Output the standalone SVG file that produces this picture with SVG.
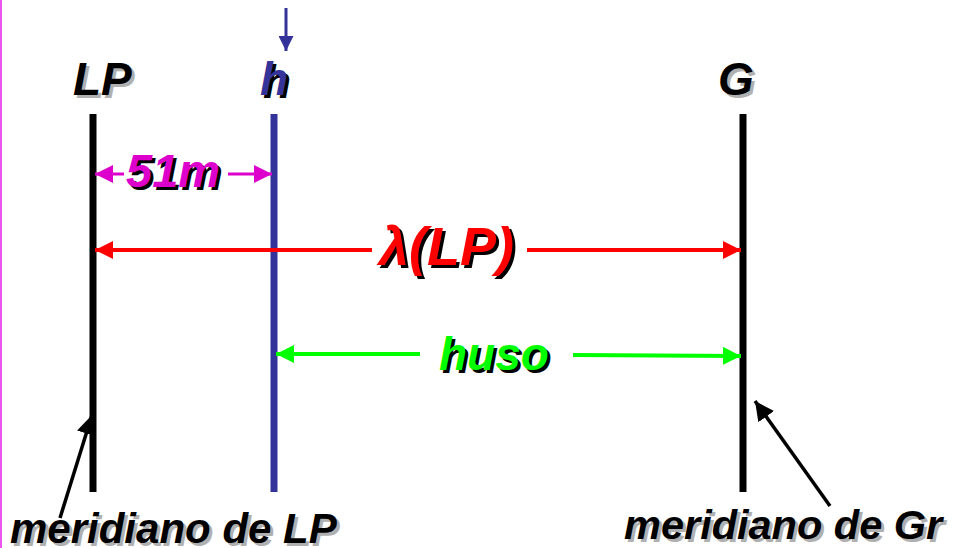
<svg xmlns="http://www.w3.org/2000/svg" width="953" height="548" viewBox="0 0 953 548">
<style>
text{font-family:"Liberation Sans",Arial,sans-serif;font-weight:bold;font-style:italic}
.sh{fill:#b0b0b0}
.shk{fill:#000}
.mer{stroke-width:7;fill:none}
</style>
<defs>
<marker id="ab" viewBox="0 0 10 10" refX="10" refY="5" markerWidth="5" markerHeight="5" orient="auto-start-reverse" markerUnits="strokeWidth"><path d="M0,0L10,5L0,10z" fill="#333399"/></marker>
<marker id="am" viewBox="0 0 10 10" refX="10" refY="5" markerWidth="6" markerHeight="6" orient="auto-start-reverse" markerUnits="strokeWidth"><path d="M0,0L10,5L0,10z" fill="#dd00cc"/></marker>
<marker id="ar" viewBox="0 0 10 10" refX="10" refY="5" markerWidth="4.5" markerHeight="4.5" orient="auto-start-reverse" markerUnits="strokeWidth"><path d="M0,0L10,5L0,10z" fill="#ff0000"/></marker>
<marker id="ag" viewBox="0 0 10 10" refX="10" refY="5" markerWidth="4.5" markerHeight="4.5" orient="auto-start-reverse" markerUnits="strokeWidth"><path d="M0,0L10,5L0,10z" fill="#00ff00"/></marker>
<marker id="ak" viewBox="0 0 10 10" refX="10" refY="5" markerWidth="5.5" markerHeight="5.5" orient="auto-start-reverse" markerUnits="strokeWidth"><path d="M0,0L10,5L0,10z" fill="#000"/></marker>
</defs>
<rect width="953" height="548" fill="#fff"/>
<line x1="1" y1="0" x2="1" y2="548" stroke="#ee55ee" stroke-width="2"/>

<g id="meridian-LP">
<line class="mer" x1="93" y1="114" x2="93" y2="492" stroke="#000"/>
<text class="sh" x="76" y="98" font-size="46">LP</text>
<text x="73" y="95" font-size="46" fill="#000">LP</text>
</g>
<g id="meridian-h">
<line class="mer" x1="274" y1="114" x2="274" y2="492" stroke="#333399"/>
<text class="shk" x="263" y="98" font-size="46">h</text>
<text x="260" y="95" font-size="46" fill="#333399">h</text>
</g>
<g id="meridian-G">
<line class="mer" x1="743" y1="114" x2="743" y2="492" stroke="#000"/>
<text class="sh" x="721" y="98" font-size="46">G</text>
<text x="718" y="95" font-size="46" fill="#000">G</text>
</g>
<g id="label-51m">
<text class="shk" x="129" y="190" font-size="47">51m</text>
<text x="126" y="187" font-size="47" fill="#dd00cc">51m</text>
</g>
<g id="label-lambda">
<text class="shk" x="382" y="268" font-size="54">λ(LP)</text>
<text x="379" y="265" font-size="54" fill="#ff0000">λ(LP)</text>
</g>
<g id="label-huso">
<text class="shk" x="442" y="373" font-size="46">huso</text>
<text x="439" y="370" font-size="46" fill="#00ff00">huso</text>
</g>
<g id="label-merLP">
<text class="sh" x="13" y="546" font-size="42">meridiano de LP</text>
<text x="10" y="543" font-size="42" fill="#000">meridiano de LP</text>
</g>
<g id="label-merGr">
<text class="sh" x="627" y="542" font-size="41.5">meridiano de Gr</text>
<text x="624" y="539" font-size="41.5" fill="#000">meridiano de Gr</text>
</g>

<g id="connectors">
<line x1="286" y1="8" x2="286" y2="51" stroke="#333399" stroke-width="3" marker-end="url(#ab)"/>
<line x1="124" y1="174" x2="95" y2="174" stroke="#dd00cc" stroke-width="3" marker-end="url(#am)"/>
<line x1="228" y1="174" x2="272" y2="174" stroke="#dd00cc" stroke-width="3" marker-end="url(#am)"/>
<line x1="372" y1="250" x2="95" y2="250" stroke="#ff0000" stroke-width="4" marker-end="url(#ar)"/>
<line x1="527" y1="250" x2="741" y2="250" stroke="#ff0000" stroke-width="4" marker-end="url(#ar)"/>
<line x1="420" y1="354" x2="276" y2="354" stroke="#00ff00" stroke-width="4" marker-end="url(#ag)"/>
<line x1="573" y1="355" x2="741" y2="356" stroke="#00ff00" stroke-width="4" marker-end="url(#ag)"/>
<line x1="60" y1="518" x2="92" y2="415" stroke="#000" stroke-width="3.5" marker-end="url(#ak)"/>
<line x1="830" y1="506" x2="755" y2="401" stroke="#000" stroke-width="3.5" marker-end="url(#ak)"/>
</g>
</svg>
